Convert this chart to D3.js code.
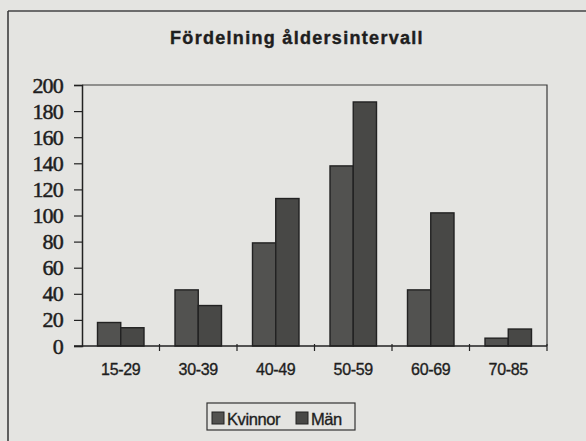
<!DOCTYPE html>
<html>
<head>
<meta charset="utf-8">
<script src="https://cdn.jsdelivr.net/npm/d3@7"></script>
<style>
  body { margin: 0; background: #e4e4e1; }
  svg { display: block; }
</style>
</head>
<body>
<div id="chart"></div>
<script>
const categories = ["15-29", "30-39", "40-49", "50-59", "60-69", "70-85"];
const seriesNames = ["Kvinnor", "Män"];
const kvinnor = [18, 43, 79, 138, 43, 6];
const man = [14, 31, 113, 187, 102, 13];
const yTicks = [0, 20, 40, 60, 80, 100, 120, 140, 160, 180, 200];

const width = 586, height = 441;
const margin = { top: 85, right: 39, bottom: 95, left: 82 };

const svg = d3.select("#chart").append("svg")
    .attr("width", width)
    .attr("height", height);

// page frame (only top + left visible in the scan)
svg.append("rect").attr("width", width).attr("height", height).attr("fill", "#e4e4e1");
svg.append("line").attr("x1", 8).attr("x2", width).attr("y1", 11).attr("y2", 11)
    .attr("stroke", "#444").attr("stroke-width", 1.5);
svg.append("line").attr("x1", 8).attr("x2", 8).attr("y1", 11).attr("y2", height)
    .attr("stroke", "#333").attr("stroke-width", 1.5);

// title
svg.append("text")
    .attr("x", 297).attr("y", 44)
    .attr("text-anchor", "middle")
    .style("font-family", "'Liberation Sans', Arial, sans-serif")
    .style("font-weight", "bold")
    .style("font-size", "18px")
    .style("letter-spacing", "1.3px")
    .attr("fill", "#1e1e1e")
    .attr("stroke", "#1e1e1e").attr("stroke-width", 0.4)
    .text("Fördelning åldersintervall");

const x0 = d3.scaleBand()
    .domain(categories)
    .range([margin.left, width - margin.right])
    .paddingInner(0.4)
    .paddingOuter(0.2);

const x1 = d3.scaleBand()
    .domain(seriesNames)
    .range([0, x0.bandwidth()]);

const y = d3.scaleLinear()
    .domain([0, 200])
    .range([height - margin.bottom, margin.top]);

const color = d3.scaleOrdinal().domain(seriesNames).range(["#525250", "#484846"]);

// plot frame top + right
svg.append("path")
    .attr("d", `M${margin.left},${y(200)}H${width - margin.right}V${y(0)}`)
    .attr("fill", "none")
    .attr("stroke", "#3a3a3a")
    .attr("stroke-width", 1.2);

// bars
const rows = categories.map((c, i) => ({ cat: c, values: [
    { key: "Kvinnor", value: kvinnor[i] },
    { key: "Män", value: man[i] }
]}));

svg.append("g")
    .selectAll("g")
    .data(rows)
    .join("g")
    .attr("transform", d => `translate(${x0(d.cat)},0)`)
    .selectAll("rect")
    .data(d => d.values)
    .join("rect")
    .attr("x", d => x1(d.key))
    .attr("y", d => y(d.value))
    .attr("width", x1.bandwidth())
    .attr("height", d => y(0) - y(d.value))
    .attr("fill", d => color(d.key))
    .attr("stroke", "#222")
    .attr("stroke-width", 1.4);

// y axis
const yAxis = svg.append("g")
    .attr("transform", `translate(${margin.left},0)`)
    .call(d3.axisLeft(y).tickValues(yTicks).tickSize(8).tickPadding(11));
yAxis.select(".domain").attr("stroke", "#222").attr("stroke-width", 1.5);
yAxis.selectAll("line").attr("stroke", "#222").attr("stroke-width", 1.2);
yAxis.selectAll("text")
    .style("font-family", "'Liberation Serif', 'Times New Roman', serif")
    .style("font-size", "22px")
    .style("letter-spacing", "-0.8px")
    .attr("fill", "#1e1e1e")
    .attr("stroke", "#1e1e1e").attr("stroke-width", 0.5);

// x axis: ticks at category boundaries
const boundaries = categories.map(c => x0(c) - x0.step() * x0.paddingInner() / 2).slice(1);
const xAxisG = svg.append("g").attr("transform", `translate(0,${y(0)})`);
xAxisG.append("line")
    .attr("x1", margin.left - 8).attr("x2", width - margin.right)
    .attr("stroke", "#222").attr("stroke-width", 1.5);
xAxisG.selectAll(".tk")
    .data(boundaries.concat([width - margin.right]))
    .join("line")
    .attr("class", "tk")
    .attr("x1", d => d).attr("x2", d => d)
    .attr("y1", -2).attr("y2", 5)
    .attr("stroke", "#222").attr("stroke-width", 1.2);
xAxisG.selectAll("text")
    .data(categories)
    .join("text")
    .attr("x", d => x0(d) + x0.bandwidth() / 2)
    .attr("y", 29)
    .attr("text-anchor", "middle")
    .style("font-family", "'Liberation Sans', Arial, sans-serif")
    .style("font-size", "16px")
    .style("letter-spacing", "-0.3px")
    .attr("fill", "#1e1e1e")
    .attr("stroke", "#1e1e1e").attr("stroke-width", 0.35)
    .text(d => d);

// legend
const legend = svg.append("g").attr("transform", "translate(207,403)");
legend.append("rect")
    .attr("width", 148).attr("height", 27)
    .attr("fill", "none").attr("stroke", "#333").attr("stroke-width", 1.2);
const legendX = [5, 89];
const items = legend.selectAll("g.item")
    .data(seriesNames)
    .join("g")
    .attr("class", "item")
    .attr("transform", (d, i) => `translate(${legendX[i]},9)`);
items.append("rect")
    .attr("width", 12).attr("height", 12)
    .attr("fill", d => color(d))
    .attr("stroke", "#222");
items.append("text")
    .attr("x", 15).attr("y", 13)
    .style("font-family", "'Liberation Sans', Arial, sans-serif")
    .style("font-size", "16.5px")
    .style("letter-spacing", "-0.4px")
    .attr("fill", "#1e1e1e")
    .attr("stroke", "#1e1e1e").attr("stroke-width", 0.35)
    .text(d => d);
</script>
</body>
</html>
